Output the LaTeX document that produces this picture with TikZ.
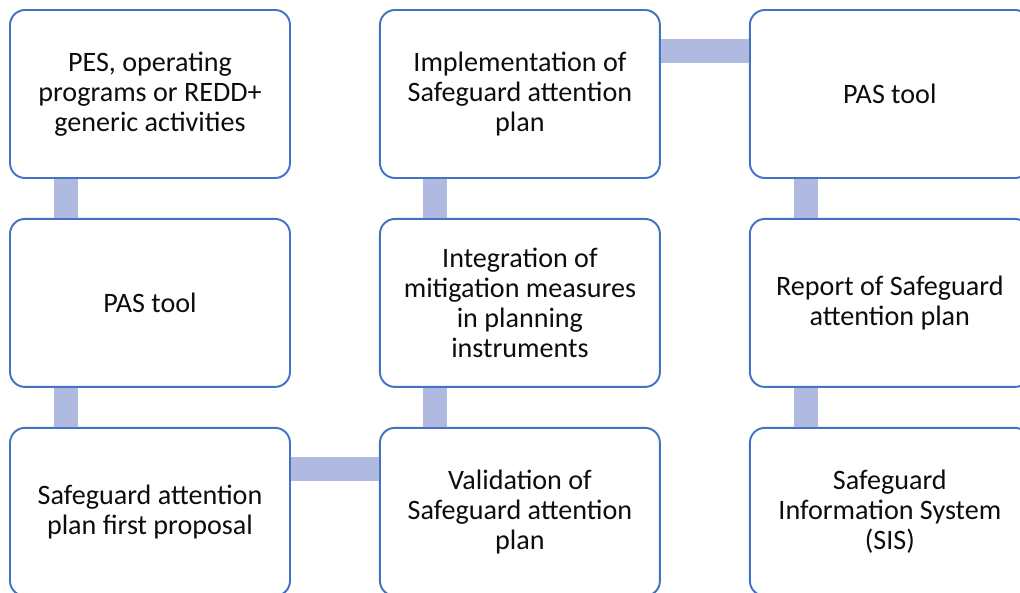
\documentclass[tikz,border=0pt]{standalone}
\usepackage{fontspec}
\setmainfont{Carlito}
\usepackage{xcolor}
\usetikzlibrary{positioning}
\definecolor{boxblue}{HTML}{4472C4}
\definecolor{linkblue}{HTML}{B0BAE0}
\definecolor{textgray}{HTML}{0D0D0D}

\tikzset{
  box/.style={draw=boxblue, line width=1.1pt, rounded corners=0.3cm, fill=white,
    minimum width=5.6cm, minimum height=3.36cm, align=center, text=textgray,
    font=\fontsize{16}{17}\selectfont},
  link/.style={draw=linkblue, line width=0.48cm}
}

\begin{document}
\begin{tikzpicture}[node distance=0.78cm and 1.76cm]
    % Frame of the picture
    \useasboundingbox (-3.0,1.88) rectangle (17.4,-9.98);

    % Column 1
    \node[box] (pes) at (0,0) {PES, operating\\programs or REDD+\\generic activities};
    \node[box, below=of pes] (pastoolA) {PAS tool};
    \node[box, below=of pastoolA] (firstprop) {Safeguard attention\\plan first proposal};
    % Column 2
    \node[box, right=of firstprop] (validation) {Validation of\\Safeguard attention\\plan};
    \node[box, above=of validation] (integration) {Integration of\\mitigation measures\\in planning\\instruments};
    \node[box, above=of integration] (implementation) {Implementation of\\Safeguard attention\\plan};
    % Column 3
    \node[box, right=of implementation] (pastoolB) {PAS tool};
    \node[box, below=of pastoolB] (report) {Report of Safeguard\\attention plan};
    \node[box, below=of report] (sis) {Safeguard\\Information System\\(SIS)};

    % Links
    \draw[link] ([xshift=1.14cm]pes.south west) -- ([xshift=1.14cm]pastoolA.north west);
    \draw[link] ([xshift=1.14cm]pastoolA.south west) -- ([xshift=1.14cm]firstprop.north west);
    \draw[link] ([yshift=-0.84cm]firstprop.north east) -- ([yshift=-0.84cm]validation.north west);
    \draw[link] ([xshift=1.12cm]validation.north west) -- ([xshift=1.12cm]integration.south west);
    \draw[link] ([xshift=1.12cm]integration.north west) -- ([xshift=1.12cm]implementation.south west);
    \draw[link] ([yshift=-0.84cm]implementation.north east) -- ([yshift=-0.84cm]pastoolB.north west);
    \draw[link] ([xshift=1.14cm]pastoolB.south west) -- ([xshift=1.14cm]report.north west);
    \draw[link] ([xshift=1.14cm]report.south west) -- ([xshift=1.14cm]sis.north west);
\end{tikzpicture}
\end{document}
